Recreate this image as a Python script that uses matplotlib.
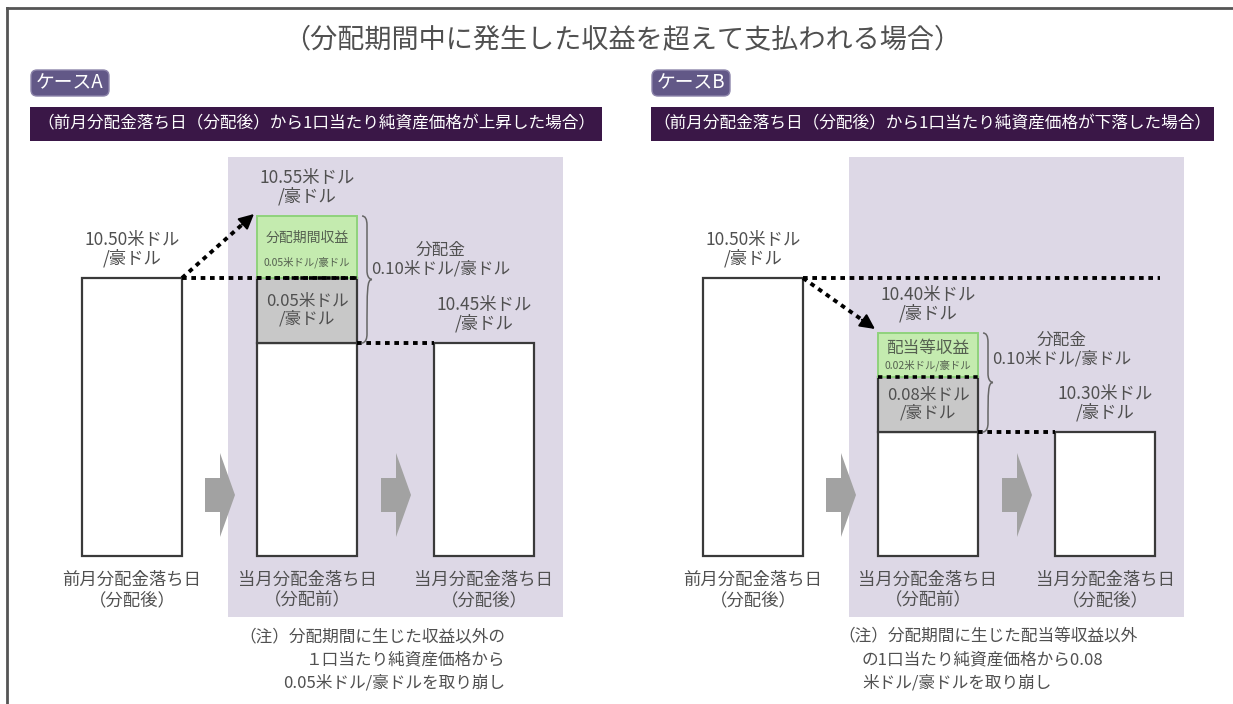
import matplotlib
matplotlib.use('Agg')
import matplotlib.pyplot as plt
from matplotlib.patches import Rectangle, FancyBboxPatch, Polygon, PathPatch
from matplotlib.path import Path

plt.rcParams['font.family'] = ['Noto Sans CJK JP', 'DejaVu Sans']

# ---- data (text and values) ----
title = '（分配期間中に発生した収益を超えて支払われる場合）'
case_names = ['ケースA', 'ケースB']
case_headers = ['（前月分配金落ち日（分配後）から1口当たり純資産価格が上昇した場合）',
                '（前月分配金落ち日（分配後）から1口当たり純資産価格が下落した場合）']
day_labels = ['前月分配金落ち日\n（分配後）', '当月分配金落ち日\n（分配前）', '当月分配金落ち日\n（分配後）']
nav_a = ['10.50', '10.55', '10.45']
nav_b = ['10.50', '10.40', '10.30']
income_names = ['分配期間収益', '配当等収益']
income_vals = ['0.05', '0.02']
principal_vals = ['0.05', '0.08']
dividend_val = '0.10'
notes_a = ['（注）分配期間に生じた収益以外の', '１口当たり純資産価格から', '0.05米ドル/豪ドルを取り崩し']
notes_b = ['（注）分配期間に生じた配当等収益以外', 'の1口当たり純資産価格から0.08', '米ドル/豪ドルを取り崩し']

# schematic bar heights as drawn (the diagram is not to scale)
start_h = [278, 278]
after_h = [213, 124]
principal_h = [65, 55]
income_h = [62, 44]

unit = '米ドル\n/豪ドル'
navs = [nav_a, nav_b]
notes = [notes_a, notes_b]

# ---- style / layout ----
TXT = '#505050'
BASE = 556
BAR_W = 100
dx = [0, 621]
centers = [132, 307, 484]
dots = (0, (1.2, 1.2))

fig = plt.figure(figsize=(12.33, 7.04), dpi=100)
ax = fig.add_axes([0, 0, 1, 1])
ax.set_xlim(0, 1233)
ax.set_ylim(704, 0)
ax.axis('off')

# frame
ax.plot([7, 1233], [8, 8], color='#555555', lw=2)
ax.plot([7, 7], [8, 704], color='#555555', lw=2)

ax.text(622, 40, title, ha='center', va='center', fontsize=19.5, color=TXT)


def brace(x, y0, y1, w=10, r=9):
    m = (y0 + y1) / 2
    xm = x + w / 2
    verts = [(x, y0), (xm, y0), (xm, y0 + r),
             (xm, m - r),
             (xm, m), (x + w, m), (x + w, m),
             (xm, m), (xm, m + r),
             (xm, y1 - r),
             (xm, y1), (x, y1), (x, y1)]
    codes = [Path.MOVETO, Path.CURVE3, Path.CURVE3,
             Path.LINETO,
             Path.CURVE4, Path.CURVE4, Path.CURVE4,
             Path.CURVE4, Path.CURVE4,
             Path.LINETO,
             Path.CURVE4, Path.CURVE4, Path.CURVE4]
    ax.add_patch(PathPatch(Path(verts, codes), fill=False, ec='#666666', lw=1.1))


def block_arrow(x0, yc):
    pts = [(x0, yc - 17), (x0 + 15, yc - 17), (x0 + 15, yc - 42), (x0 + 30, yc),
           (x0 + 15, yc + 42), (x0 + 15, yc + 17), (x0, yc + 17)]
    ax.add_patch(Polygon(pts, closed=True, fc='#a2a2a2', ec='none', zorder=2))


for i in range(2):
    o = dx[i]
    cx = [c + o for c in centers]
    left = [c - BAR_W / 2 for c in cx]
    right = [c + BAR_W / 2 for c in cx]

    # lavender panel behind the current-month bars
    ax.add_patch(Rectangle((228 + o, 157), 335, 460, fc='#ddd8e6', ec='none', zorder=0))

    # badge + header
    ax.add_patch(FancyBboxPatch((31 + o, 70), 78, 26, boxstyle='round,pad=0,rounding_size=6',
                                fc='#625887', ec='#8c84aa', lw=1, zorder=3))
    ax.text(70 + o, 83, case_names[i], ha='center', va='center', fontsize=13.5, color='white', zorder=4)
    hdr_w = [572, 563][i]
    ax.add_patch(Rectangle((30 + o, 107), hdr_w, 34, fc='#3a1747', ec='none', zorder=3))
    ax.text(30 + o + hdr_w / 2, 124, case_headers[i], ha='center', va='center', fontsize=12,
            color='white', zorder=4)

    # block arrows
    block_arrow(205 + o, 495)
    block_arrow(381 + o, 495)

    # bars
    tops = [BASE - start_h[i], BASE - after_h[i], BASE - after_h[i]]
    ax.bar([cx[0], cx[2]], [start_h[i], after_h[i]], width=BAR_W,
           bottom=[BASE - start_h[i], BASE - after_h[i]],
           color='white', edgecolor='#3a3a3a', lw=1.6, zorder=3)
    ax.bar(cx[1], after_h[i], width=BAR_W, bottom=BASE - after_h[i],
           color='white', edgecolor='#3a3a3a', lw=1.6, zorder=3)
    grey_top = BASE - after_h[i] - principal_h[i]
    ax.bar(cx[1], principal_h[i], width=BAR_W, bottom=grey_top,
           color='#c8c8c8', edgecolor='#3a3a3a', lw=1.6, zorder=3)
    green_top = grey_top - income_h[i]
    ax.bar(cx[1], income_h[i], width=BAR_W, bottom=green_top,
           color='#c4ebaf', edgecolor='#8fd27c', lw=1.4, zorder=3)
    ax.plot([left[1], right[1]], [grey_top, grey_top], color='black', lw=2.6, ls=dots, zorder=5)

    # texts inside stack
    ax.text(cx[1], grey_top + principal_h[i] / 2, principal_vals[i] + unit, ha='center', va='center',
            fontsize=12, color=TXT, linespacing=1.05, zorder=6)
    ax.text(cx[1], green_top + income_h[i] * 0.36, income_names[i], ha='center', va='center',
            fontsize=[10, 12][i], color='#556050', zorder=6)
    ax.text(cx[1], green_top + income_h[i] * 0.74, income_vals[i] + '米ドル/豪ドル', ha='center',
            va='center', fontsize=[7.5, 7.5][i], color='#556050', zorder=6)

    # value labels above bars
    label_tops = [tops[0], green_top, tops[2]]
    for k in range(3):
        ax.text(cx[k], label_tops[k] - 29, navs[i][k] + unit, ha='center', va='center',
                fontsize=12.5, color=TXT, linespacing=1.0, zorder=6)
        ax.text(cx[k], BASE + 34, day_labels[k], ha='center', va='center',
                fontsize=12.5, color=TXT, linespacing=1.2, zorder=6)

    # brace and distribution label
    brace(right[1] + 5, green_top, BASE - after_h[i])
    bly = [260, 350][i]
    ax.text(right[1] + 84, bly, '分配金\n' + dividend_val + '米ドル/豪ドル', ha='center', va='center',
            fontsize=12, color=TXT, linespacing=1.15, zorder=6)

    # dotted connectors
    if i == 0:
        ax.plot([right[0], right[1]], [tops[0], tops[0]], color='black', lw=2.8, ls=dots, zorder=5)
    else:
        ax.plot([right[0], 1160], [tops[0], tops[0]], color='black', lw=2.8, ls=dots, zorder=5)
    ax.plot([right[1], left[2]], [tops[1], tops[1]], color='black', lw=2.8, ls=dots, zorder=5)

    tip = (left[1] - 3, green_top - 2 if i == 0 else green_top - 4)
    sx, sy = right[0], tops[0]
    vx, vy = tip[0] - sx, tip[1] - sy
    ln = (vx ** 2 + vy ** 2) ** 0.5
    bx, by = tip[0] - vx / ln * 16, tip[1] - vy / ln * 16
    ax.plot([sx, bx], [sy, by], color='black', lw=2.8, ls=dots, zorder=5)
    ax.annotate('', xy=tip, xytext=(bx, by),
                arrowprops=dict(arrowstyle='-|>,head_length=0.9,head_width=0.45', color='black',
                                lw=1.5, shrinkA=0, shrinkB=0), zorder=6)

    # notes
    if i == 0:
        for j, line in enumerate(notes[i]):
            ax.text(505, 637 + 23 * j, line, ha='right', va='center', fontsize=12, color=TXT)
    else:
        for j, line in enumerate(notes[i]):
            ax.text(838 if j == 0 else 862, 637 + 23 * j, line, ha='left', va='center',
                    fontsize=12, color=TXT)

fig.savefig('out.png', dpi=100, facecolor='white')
